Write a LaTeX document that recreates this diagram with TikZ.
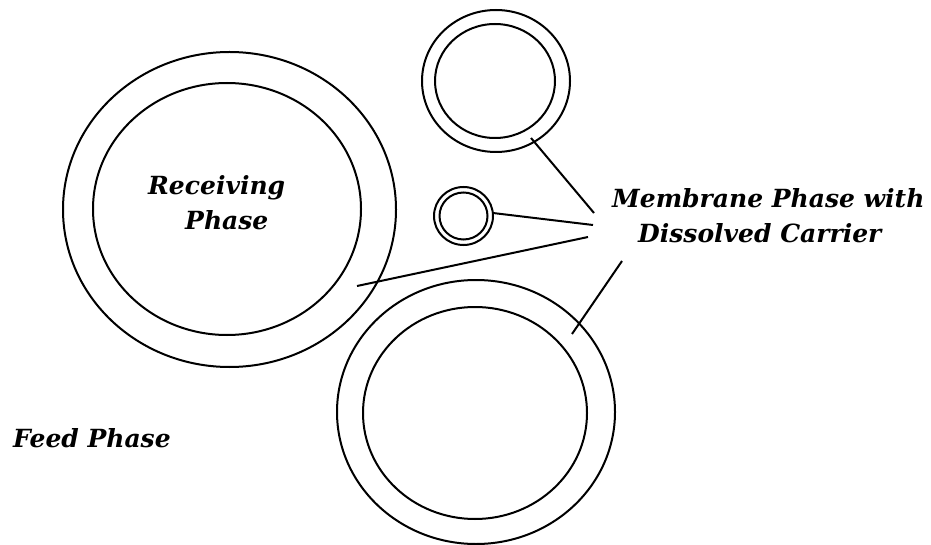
\documentclass[tikz,border=0pt]{standalone}
\usepackage{fontspec}
\newfontfamily\lblfamily{DejaVu Serif}
\newcommand{\lblfont}{\lblfamily\bfseries\itshape\fontsize{25}{30}\selectfont}
\begin{document}
\begin{tikzpicture}[x=1pt,y=-1pt,
  ring/.style={line width=2pt},
  conn/.style={line width=2pt},
  lbl/.style={font=\lblfont, inner sep=0pt, anchor=base west}]
\useasboundingbox (0,0) rectangle (931,545);
% large receiving-phase droplet
\draw[ring] (229.5,209.5) ellipse [x radius=166.5pt, y radius=157.5pt];
\draw[ring] (227,209) ellipse [x radius=134pt, y radius=126pt];
% top-right droplet
\draw[ring] (496,81) ellipse [x radius=74pt, y radius=71pt];
\draw[ring] (495,81) ellipse [x radius=60pt, y radius=57pt];
% small droplet
\draw[ring] (463.5,216) ellipse [x radius=29.5pt, y radius=29pt];
\draw[ring] (463.5,216) ellipse [x radius=24pt, y radius=23.5pt];
% bottom droplet
\draw[ring] (476,412) ellipse [x radius=139pt, y radius=132pt];
\draw[ring] (475,413) ellipse [x radius=112pt, y radius=106pt];
% labels
\node[lbl] (recv) at (148,195) {Receiving};
\node[lbl] (recvb) at (185,230) {Phase};
\node[lbl] (memb) at (612,208) {Membrane Phase with};
\node[lbl] (membb) at (638,243) {Dissolved Carrier};
\node[lbl] (feed) at (13,447) {Feed Phase};
% connector ends
\coordinate (c1a) at (531,138);
\coordinate (c1b) at (594,213);
\coordinate (c2a) at (493,213);
\coordinate (c2b) at (593,225);
\coordinate (c3a) at (357,286);
\coordinate (c3b) at (588,237);
\coordinate (c4a) at (622,261);
\coordinate (c4b) at (572,334);
\draw[conn] (c1a) -- (c1b);
\draw[conn] (c2a) -- (c2b);
\draw[conn] (c3a) -- (c3b);
\draw[conn] (c4a) -- (c4b);
\end{tikzpicture}
\end{document}
